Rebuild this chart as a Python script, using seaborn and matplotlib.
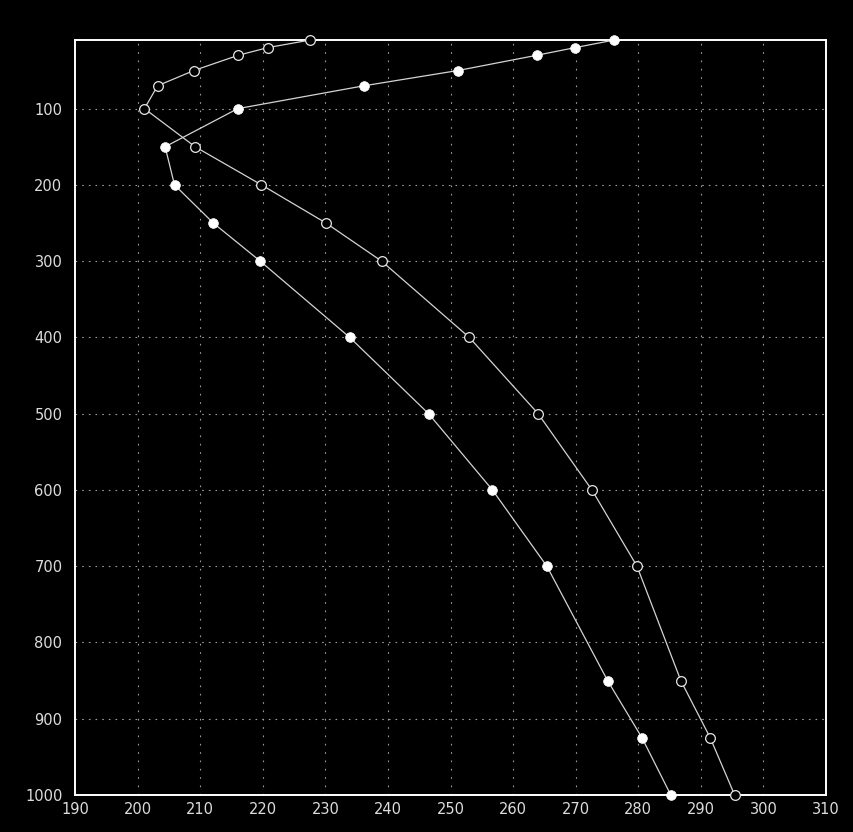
import numpy as np
import pandas as pd
import matplotlib
matplotlib.use("Agg")
import matplotlib.pyplot as plt
import seaborn as sns

# pressure levels (hPa)
LEVELS = [10, 20, 30, 50, 70, 100, 150, 200, 250, 300, 400, 500, 600, 700, 850, 925, 1000]

# profile drawn with filled markers
T_FILLED = [276.2, 269.9, 263.8, 251.2, 236.2, 216.0, 204.4, 205.9, 212.1, 219.6,
            233.9, 246.5, 256.7, 265.4, 275.1, 280.6, 285.2]

# profile drawn with open markers
T_OPEN = [227.6, 220.8, 216.1, 209.0, 203.2, 201.1, 209.2, 219.8, 230.1, 239.0,
          253.0, 264.0, 272.6, 279.8, 286.8, 291.5, 295.4]

X_TICKS = list(range(190, 311, 10))
Y_TICKS = list(range(100, 1001, 100))

FG = "#ffffff"
LINE = "#d4d4d4"
GRID = "#9c9c9c"


def main():
    sns.set_style("dark")
    plt.rcParams["font.family"] = ["DejaVu Sans"]

    df_filled = pd.DataFrame({"T": T_FILLED, "p": LEVELS})
    df_open = pd.DataFrame({"T": T_OPEN, "p": LEVELS})

    fig = plt.figure(figsize=(8.54, 8.32), dpi=100, facecolor="black")
    ax = fig.add_axes([75 / 854, 1 - 795 / 832, 751 / 854, 755 / 832])
    ax.set_facecolor("black")

    sns.lineplot(
        data=df_open, x="T", y="p", sort=False, estimator=None, ax=ax,
        color=LINE, linewidth=0.9, marker="o", markersize=7,
        markerfacecolor="black", markeredgecolor="#e6e6e6", markeredgewidth=0.9,
        clip_on=False, zorder=3,
    )
    sns.lineplot(
        data=df_filled, x="T", y="p", sort=False, estimator=None, ax=ax,
        color=LINE, linewidth=0.9, marker="o", markersize=7,
        markerfacecolor=FG, markeredgecolor=FG, markeredgewidth=0.5,
        clip_on=False, zorder=3,
    )

    ax.set_xlim(190, 310)
    ax.set_ylim(1000, 10)
    ax.set_xticks(X_TICKS)
    ax.set_yticks(Y_TICKS)
    ax.set_xlabel("")
    ax.set_ylabel("")

    # dotted grid inside the frame
    for x in X_TICKS[1:-1]:
        ax.axvline(x, color=GRID, linewidth=0.8, dashes=(1.5, 6), zorder=1)
    for y in Y_TICKS[:-1]:
        ax.axhline(y, color=GRID, linewidth=0.8, dashes=(1.5, 4.5), zorder=1)
    ax.grid(False)

    for side in ax.spines.values():
        side.set_visible(True)
        side.set_color(FG)
        side.set_linewidth(1.4)

    ax.tick_params(axis="both", colors=FG, labelcolor="#dcdcdc", labelsize=10.5,
                   width=1, direction="out")
    ax.tick_params(axis="x", length=4, pad=1)
    ax.tick_params(axis="y", length=7, pad=2)

    fig.savefig("out.png", dpi=100, facecolor="black")


if __name__ == "__main__":
    main()
